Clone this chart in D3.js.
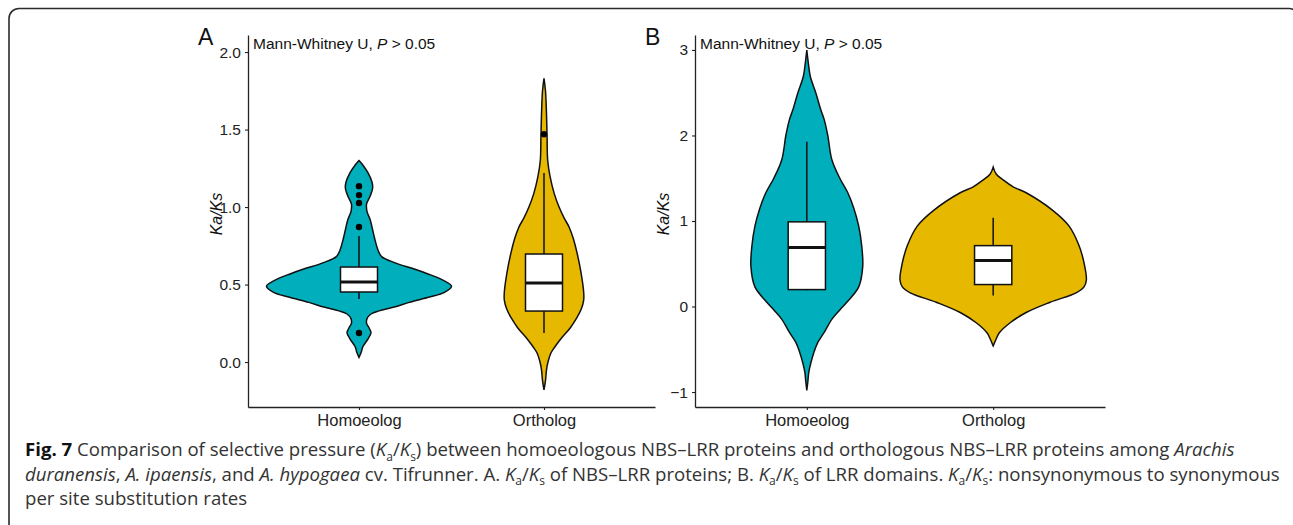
<!DOCTYPE html>
<html>
<head>
<meta charset="utf-8">
<script src="https://cdn.jsdelivr.net/npm/d3@7"></script>
<style>
  body { margin: 0; background: #fff; }
  svg { display: block; }
</style>
</head>
<body>
<script>
var categories = ['Homoeolog', 'Ortholog']
var fills = ['#00AFBB', '#E7B800']

var ticksA = [0, 0.5, 1.0, 1.5, 2.0]
var ticksB = [-1, 0, 1, 2, 3]

// violin outlines: [Ka/Ks, relative density]
var densA_homo = [[1.30,0],[1.27,0.043],[1.22,0.098],[1.16,0.141],[1.12,0.147],[1.07,0.12],[1.02,0.082],
  [0.97,0.087],[0.92,0.12],[0.87,0.141],[0.80,0.168],[0.72,0.207],[0.68,0.245],[0.64,0.391],[0.60,0.598],
  [0.57,0.739],[0.53,0.902],[0.49,1.0],[0.45,0.924],[0.42,0.761],[0.385,0.543],[0.355,0.38],[0.33,0.217],
  [0.31,0.13],[0.28,0.087],[0.25,0.082],[0.22,0.109],[0.19,0.13],[0.15,0.098],[0.10,0.043],[0.06,0.022],[0.03,0]]
var densA_orth = [[1.83,0],[1.75,0.016],[1.60,0.027],[1.46,0.033],[1.30,0.040],[1.20,0.065],[1.09,0.109],
  [1.00,0.163],[0.93,0.217],[0.87,0.272],[0.80,0.315],[0.70,0.359],[0.57,0.402],[0.45,0.429],[0.40,0.429],
  [0.34,0.402],[0.29,0.359],[0.22,0.283],[0.16,0.196],[0.10,0.12],[0.06,0.076],[0.00,0.043],[-0.05,0.027],
  [-0.12,0.016],[-0.18,0]]
var densB_homo = [[3.0,0],[2.85,0.016],[2.69,0.0375],[2.5,0.096],[2.3,0.15],[2.18,0.188],[2.0,0.225],
  [1.72,0.268],[1.5,0.354],[1.33,0.44],[1.15,0.504],[0.94,0.557],[0.7,0.59],[0.47,0.6],[0.23,0.557],
  [0.05,0.429],[-0.04,0.354],[-0.15,0.268],[-0.30,0.188],[-0.42,0.118],[-0.54,0.075],[-0.66,0.043],
  [-0.77,0.021],[-0.88,0.011],[-0.98,0]]
var densB_orth = [[1.63,0],[1.55,0.032],[1.48,0.107],[1.40,0.214],[1.33,0.354],[1.13,0.632],[0.94,0.815],
  [0.71,0.922],[0.51,0.975],[0.31,1.0],[0.23,0.975],[0.16,0.89],[0.05,0.611],[-0.07,0.354],[-0.19,0.182],
  [-0.31,0.064],[-0.38,0.032],[-0.46,0]]

// box stats: [low whisker, q1, median, q3, high whisker]
var boxA_homo = [0.406, 0.452, 0.516, 0.613, 0.813]
var boxA_orth = [0.187, 0.329, 0.51, 0.697, 1.22]
var boxB_homo = [0.19, 0.198, 0.689, 0.99, 1.926]
var boxB_orth = [0.128, 0.257, 0.537, 0.712, 1.039]
var outA_homo = [1.135, 1.077, 1.026, 0.871, 0.187]
var outA_orth = [1.47]
var outB_homo = []
var outB_orth = []

var W = 1293, H = 525

var svg = d3.select('body')
  .append('svg')
  .attr('width', W)
  .attr('height', H)

svg.append('rect')
  .attr('x', 9).attr('y', 8.5)
  .attr('width', 1290).attr('height', 530)
  .attr('rx', 10)
  .style('fill', 'none')
  .style('stroke', '#2b2b2b')
  .style('stroke-width', '1.6px')

var panels = [
  { label: 'A', left: 248, right: 655, domain: [-0.29, 2.11], ticks: ticksA, fmt: d3.format('.1f'),
    dens: [densA_homo, densA_orth], box: [boxA_homo, boxA_orth], out: [outA_homo, outA_orth] },
  { label: 'B', left: 695, right: 1105, domain: [-1.175, 3.175], ticks: ticksB, fmt: d3.format('d'),
    dens: [densB_homo, densB_orth], box: [boxB_homo, boxB_orth], out: [outB_homo, outB_orth] }
]

var yTop = 35, yBot = 407

panels.forEach(function(p) {
  var g = svg.append('g')

  var x = d3.scalePoint().domain(categories).range([p.left, p.right]).padding(0.6)
  var y = d3.scaleLinear().domain(p.domain).range([yBot, yTop])
  var w = d3.scaleLinear().domain([0, 1]).range([0, x.step() / 2])
  var bw = x.step() * 0.2

  categories.forEach(function(c, i) {
    var cx = x(c)
    var area = d3.area()
      .y(function(d) { return y(d[0]) })
      .x0(function(d) { return cx - w(d[1]) })
      .x1(function(d) { return cx + w(d[1]) })
      .curve(d3.curveCatmullRom.alpha(0.5))

    g.append('path')
      .datum(p.dens[i])
      .attr('d', area)
      .style('fill', fills[i])
      .style('stroke', '#111')
      .style('stroke-width', '1.5px')

    var b = p.box[i]
    g.append('line')
      .attr('x1', cx).attr('x2', cx)
      .attr('y1', y(b[0])).attr('y2', y(b[4]))
      .style('stroke', '#111').style('stroke-width', '1.5px')
    g.append('rect')
      .attr('x', cx - bw / 2).attr('width', bw)
      .attr('y', y(b[3])).attr('height', y(b[1]) - y(b[3]))
      .style('fill', '#fff').style('stroke', '#111').style('stroke-width', '1.5px')
    g.append('line')
      .attr('x1', cx - bw / 2).attr('x2', cx + bw / 2)
      .attr('y1', y(b[2])).attr('y2', y(b[2]))
      .style('stroke', '#111').style('stroke-width', '3px')

    g.selectAll('.out' + i)
      .data(p.out[i])
      .enter()
      .append('circle')
      .attr('cx', cx).attr('cy', function(d) { return y(d) })
      .attr('r', 3.2)
      .style('fill', '#000')
  })

  var ya = g.append('g')
    .attr('transform', 'translate(' + p.left + ',0)')
    .call(d3.axisLeft(y).tickValues(p.ticks).tickFormat(p.fmt).tickSize(3).tickSizeOuter(0).tickPadding(4))
  var xa = g.append('g')
    .attr('transform', 'translate(0,' + yBot + ')')
    .call(d3.axisBottom(x).tickSize(3).tickSizeOuter(0).tickPadding(4))

  ya.selectAll('text').style('font-size', '15.5px')
  xa.selectAll('text').style('font-size', '16.5px')
  g.selectAll('.domain').style('stroke', '#222').style('stroke-width', '1.3px')
  g.selectAll('.tick line').style('stroke', '#222').style('stroke-width', '1.1px')
  g.selectAll('.tick text').style('fill', '#222').style('font-family', 'Liberation Sans, Arial, sans-serif')

  g.append('text')
    .attr('transform', 'translate(' + (p.left - 26) + ',' + 214 + ') rotate(-90)')
    .attr('text-anchor', 'middle')
    .style('font-family', 'Liberation Sans, Arial, sans-serif')
    .style('font-size', '16px')
    .style('font-style', 'italic')
    .style('fill', '#111')
    .text('Ka/Ks')

  g.append('text')
    .attr('x', p.left - 50).attr('y', 45)
    .style('font-family', 'Liberation Sans, Arial, sans-serif')
    .style('font-size', '23px')
    .style('fill', '#111')
    .text(p.label)

  var ann = g.append('text')
    .attr('x', p.left + 5).attr('y', 49)
    .style('font-family', 'Liberation Sans, Arial, sans-serif')
    .style('font-size', '15.5px')
    .style('fill', '#111')
  ann.append('tspan').text('Mann-Whitney U, ')
  ann.append('tspan').style('font-style', 'italic').text('P')
  ann.append('tspan').text(' > 0.05')
})

// caption, as runs of [text, style]
var capLines = [
  [['Fig. 7', 'b'], [' Comparison of selective pressure (', ''], ['K', 'i'], ['a', 'sub'], ['/', ''], ['K', 'i'], ['s', 'sub'],
   [') between homoeologous NBS\u2013LRR proteins and orthologous NBS\u2013LRR proteins among ', ''], ['Arachis', 'i']],
  [['duranensis', 'i'], [', ', ''], ['A. ipaensis', 'i'], [', and ', ''], ['A. hypogaea', 'i'], [' cv. Tifrunner. A. ', ''],
   ['K', 'i'], ['a', 'sub'], ['/', ''], ['K', 'i'], ['s', 'sub'], [' of NBS\u2013LRR proteins; B. ', ''],
   ['K', 'i'], ['a', 'sub'], ['/', ''], ['K', 'i'], ['s', 'sub'], [' of LRR domains. ', ''],
   ['K', 'i'], ['a', 'sub'], ['/', ''], ['K', 'i'], ['s', 'sub'], [': nonsynonymous to synonymous', '']],
  [['per site substitution rates', '']]
]

capLines.forEach(function(runs, li) {
  var t = svg.append('text')
    .attr('x', 25).attr('y', 456 + li * 24.5)
    .style('font-family', 'Open Sans, sans-serif')
    .style('font-size', '18.6px')
    .style('fill', '#333')
  var prevSub = false
  runs.forEach(function(r) {
    var s = t.append('tspan').text(r[0])
    if (r[1] === 'b') s.style('font-weight', 'bold').style('fill', '#111')
    if (r[1] === 'i') s.style('font-style', 'italic')
    if (r[1] === 'sub') s.style('font-size', '12px').attr('dy', 4.5)
    else if (prevSub) s.attr('dy', -4.5)
    prevSub = r[1] === 'sub'
  })
})
</script>
</body>
</html>
